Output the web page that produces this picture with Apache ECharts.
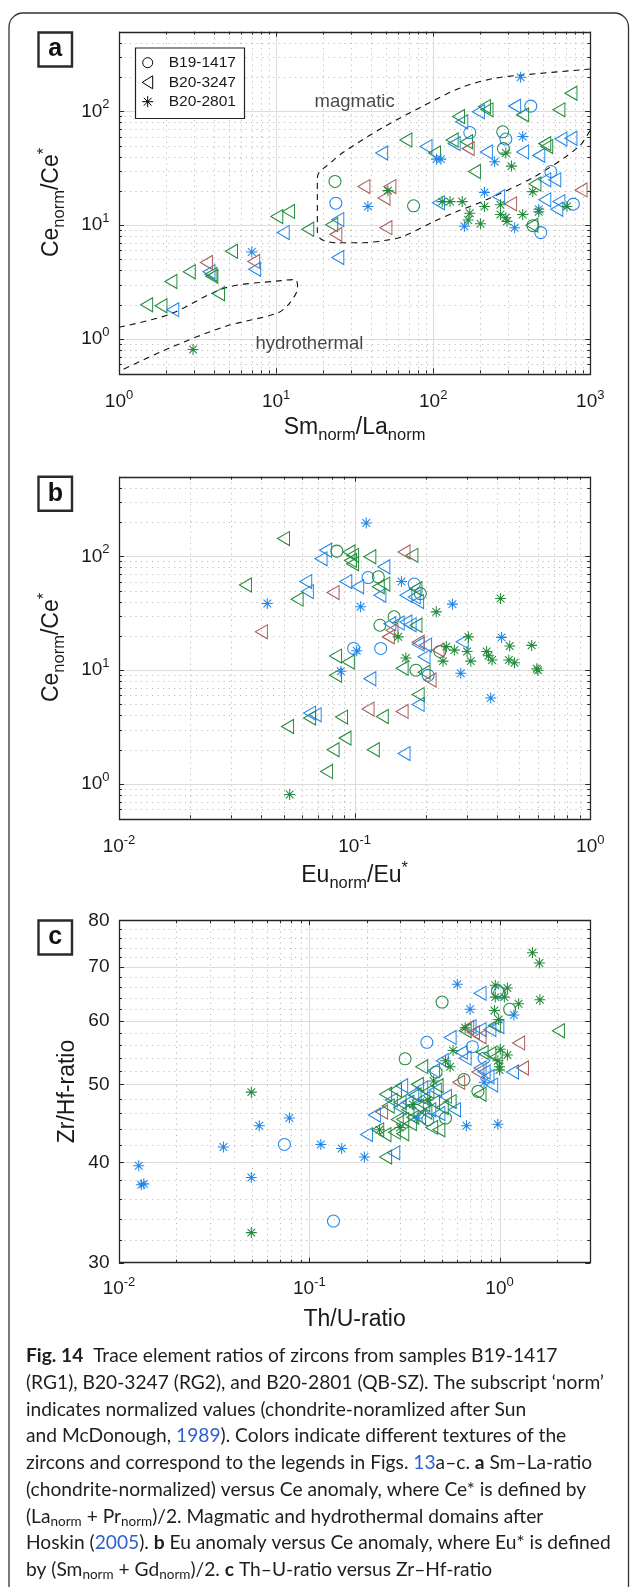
<!DOCTYPE html>
<html><head><meta charset="utf-8">
<script src="https://cdn.jsdelivr.net/npm/echarts/dist/echarts.min.js"></script>
<style>html,body{margin:0;padding:0;background:#fff}#c{width:630px;height:1587px}</style>
</head><body><div id="c"></div>
<script>
// ---------------- DATA ----------------
const samples = ['B19-1417', 'B20-3247', 'B20-2801'];
const aXRange = [1, 1000], aYRange = [0.5, 500];
const bXRange = [0.01, 1], bYRange = [0.5, 500];
const cXRange = [0.01, 3], cYRange = [30, 80];
const cYMajor = [30, 40, 50, 60, 70, 80];

// Panel a: Sm/La (x) vs Ce/Ce* (y)
const aCircBlue = [[418,111],[171,65],[290,57],[24,15.6],[561,29.6],[780,15.3],[484,8.6]];
const aCircGreen = [[277,66],[280,47],[23.7,24.2],[75,14.8],[431,9.9]];
const aTriBlue = [[330,111],[194,99],[152,81],[136,52],[90,49],[47,43],[218,44],[371,44],[470,41],[650,57],[753,58],[513,25],[594,25],[261,17.8],[513,16.7],[631,16.1],[108,15.7],[612,13.8],[24.7,11.2],[24.7,5.2],[11.1,8.6],[7.3,4.1],[3.74,3.9],[2.2,1.81]];
const aTriGreen = [[753,144],[631,103],[371,93],[212,110],[220,103],[145,90],[67,56],[132,56],[163,54],[102,43],[528,49],[513,52],[183,29.6],[444,23],[10.1,11.9],[12.0,13.2],[22.6,10.1],[15.9,9.2],[5.2,5.9],[3.85,3.7],[3.9,3.55],[2.8,3.9],[2.14,3.2],[4.3,2.5],[1.5,2.0],[1.85,1.96],[425,10]];
const aTriRed = [[167,47],[873,20.4],[311,15.4],[36.2,21.8],[53,21.8],[48.6,17.3],[24,8.3],[50,9.5],[7.2,4.8],[3.6,4.7]];
const aStarBlue = [[360,199],[371,60],[105,38],[112,38],[246,36],[212,19.4],[38.4,14.6],[470,13.8],[158,9.8],[330,9.5],[7.0,5.8]];
const aStarGreen = [[290,43],[315,33],[51.5,20.1],[430,19.7],[114,16.1],[128,16.1],[153,16.1],[171,12.7],[167,11.1],[200,10.3],[212,14.6],[268,15.1],[268,12.4],[290,11.6],[295,10.8],[371,12.4],[470,13.1],[710,14.6],[2.96,0.81]];

// Panel b: Eu/Eu* (x) vs Ce/Ce* (y)
const bCircBlue = [[0.114,65],[0.179,57],[0.099,15.5],[0.129,15.5],[0.205,9]];
const bCircGreen = [[0.084,111],[0.126,66],[0.19,47],[0.147,29.4],[0.128,24.8],[0.23,14.6],[0.182,10]];
const bTriBlue = [[0.0753,113],[0.072,95],[0.133,81],[0.062,60],[0.063,49],[0.0917,60],[0.103,54],[0.128,45.5],[0.165,45.5],[0.179,44],[0.185,40],[0.141,25.6],[0.153,26],[0.165,26.5],[0.172,25],[0.186,16.9],[0.2,16.6],[0.197,13.1],[0.286,17.8],[0.116,8.4],[0.186,5.0],[0.0644,4.2],[0.068,4.05],[0.162,1.85]];
const bTriGreen = [[0.0499,143],[0.0946,109],[0.098,102],[0.098,86],[0.096,92],[0.116,99],[0.175,102],[0.0344,56],[0.057,42],[0.126,54],[0.133,57],[0.182,52],[0.182,24.8],[0.083,13.3],[0.094,11.8],[0.083,9.0],[0.159,10.4],[0.197,9.6],[0.186,6.1],[0.0644,3.8],[0.088,3.87],[0.131,3.92],[0.0519,3.2],[0.091,2.53],[0.081,2.0],[0.12,2.0],[0.076,1.29]];
const bTriRed = [[0.162,109],[0.081,48],[0.0402,21.7],[0.139,19.6],[0.144,22.4],[0.186,17.6],[0.226,15],[0.209,8.2],[0.114,4.55],[0.159,4.34]];
const bStarBlue = [[0.112,196],[0.158,60],[0.0426,38.5],[0.106,36],[0.26,38],[0.42,19.4],[0.282,9.4],[0.102,14.8],[0.0874,9.8],[0.378,5.7]];
const bStarGreen = [[0.416,42.6],[0.222,32.5],[0.153,19.6],[0.304,19.6],[0.245,16.1],[0.265,15],[0.3,14.6],[0.363,14.6],[0.37,13.4],[0.383,12.3],[0.451,12.3],[0.477,11.6],[0.455,16.3],[0.564,16.5],[0.593,10.3],[0.6,10],[0.311,12],[0.237,12],[0.165,12.8],[0.053,0.81]];

// Panel c: Th/U (x) vs Zr/Hf (y)
const cCircBlue = [[1.0,65],[0.415,56.4],[0.72,55.7],[0.83,53.9],[0.42,45.2],[0.074,42.1],[0.134,33.8]];
const cCircGreen = [[0.976,65.4],[0.499,63.3],[1.13,62.0],[0.319,53.8],[0.464,51.8],[0.65,50.7],[0.77,49.0],[0.52,45.4]];
const cTriBlue = [[0.79,64.9],[0.7,59],[0.79,58.5],[0.89,58.5],[0.98,59],[1.17,51.8],[0.55,57.2],[0.63,54.8],[0.66,53.9],[0.79,52.4],[0.83,51.8],[0.87,51.1],[0.91,49.9],[0.5,53.5],[0.45,52],[0.306,49.8],[0.35,48.6],[0.4,48],[0.46,49.2],[0.52,48.3],[0.37,47],[0.43,46.5],[0.48,46],[0.3,46.8],[0.22,45.8],[0.2,43.3],[0.278,41.1],[0.33,47.5],[0.39,49.5],[0.27,47.8],[0.58,46.5]];
const cTriGreen = [[2.04,58.3],[0.94,59.2],[0.66,58.3],[0.81,54.8],[0.89,54.6],[0.96,54.1],[0.39,52.6],[0.79,48.6],[0.252,48.6],[0.284,49.2],[0.37,50],[0.3,47.5],[0.33,46.5],[0.36,48.5],[0.4,47.2],[0.42,49],[0.45,47.5],[0.5,46.8],[0.47,49.8],[0.38,45.5],[0.34,44.7],[0.29,45.2],[0.229,43.9],[0.25,43.3],[0.28,43.6],[0.31,43.4],[0.252,40.6],[0.55,47.6],[0.44,44.2],[0.26,47],[0.35,45.5],[0.41,46.2],[0.31,45.2],[0.48,43.9]];
const cTriRed = [[0.68,58.8],[0.73,58.0],[0.79,57.3],[1.26,56.3],[1.32,52.4],[0.77,51.8],[0.61,50.3],[0.24,46.2]];
const cStarBlue = [[0.6,66.6],[0.7,62],[1.19,61.0],[0.83,50.3],[0.98,44.6],[0.67,44.4],[0.37,45.4],[0.0786,45.4],[0.0546,44.4],[0.115,42.1],[0.148,41.6],[0.0354,41.8],[0.195,40.6],[0.0127,39.6],[0.0131,37.5],[0.0135,37.6],[0.0496,38.3]];
const cStarGreen = [[1.49,72.9],[1.62,70.8],[0.95,66.4],[1.1,65.9],[0.95,64.2],[1.06,64.2],[1.26,63.0],[1.63,63.7],[0.94,61.8],[0.99,60.2],[0.66,58.8],[1.01,55.3],[1.1,54.4],[0.98,53.5],[1.0,52.6],[1.0,52.1],[0.57,55.1],[0.55,52.6],[0.52,53.5],[0.234,43.9],[0.0496,48.9],[0.0496,32.7],[0.3,44.2],[0.35,47.2],[0.42,47.8],[0.45,50.5]];

// Domain boundaries (panel a) after Hoskin (2005)
const magmaticLine = [[1000,235],[367,208],[244,194.5],[152,162.5],[84.5,109.7],[46.9,71],[26.2,42.8],[23.3,37.4],[20.7,32.7],[18.9,29.5],[18.3,26],[18.3,8.85],[18.9,7.74],[20.7,7.23],[24.7,7.0],[35.2,7.0],[50.1,7.38],[63.4,7.9],[101.6,10.8],[144,13.3],[204.6,16.1],[443,26.7],[847,49],[1000,68.6]];
const hydroLine = [[1,1.27],[2.08,1.64],[4.74,2.81],[10.8,3.26],[13.3,3.33],[13.7,2.81],[12.2,2.07],[10.2,1.69],[4.74,1.29],[2.08,0.83],[1,0.52]];
const domainLabels = [{name:'magmatic', value:[31.6,121]}, {name:'hydrothermal', value:[16.3,0.91]}];

// ---------------- STYLE ----------------
const BLUE = '#2387ea', GREEN = '#238b3c', RED = '#a85e59';
const TXT = '#1a1a1a', AX = '#262626';
const FONT = '"Liberation Sans", Arial, Helvetica, sans-serif';
const TRI = 'path://M0,7L12,0L12,14Z';
const STAR = 'path://M6,0L6,12M0,6L12,6M1.8,1.8L10.2,10.2M10.2,1.8L1.8,10.2';
const SYM = {circ: ['circle', 12], tri: [TRI, [12, 14]], star: [STAR, 11]};

function logMajor(lo, hi) { const r = []; for (let d = Math.floor(Math.log10(lo)); d <= Math.ceil(Math.log10(hi)); d++) { const v = Math.pow(10, d); if (v >= lo * 0.9999 && v <= hi * 1.0001) r.push(v); } return r; }
function logMinor(lo, hi) { const r = []; for (let d = Math.floor(Math.log10(lo)); d <= Math.ceil(Math.log10(hi)); d++) for (let m = 2; m <= 9; m++) { const v = +(m * Math.pow(10, d)).toPrecision(6); if (v > lo * 1.0001 && v < hi * 0.9999) r.push(v); } return r; }
function stepMinor(lo, hi, step, majors) { const r = []; for (let v = lo + step; v < hi; v += step) if (majors.indexOf(v) < 0) r.push(v); return r; }

function axisItems(xr, yr, xMaj, xMin, yMaj, yMin) {
  const d = [];
  xMaj.forEach(v => d.push([v, yr[0], 0]));
  xMin.forEach(v => d.push([v, yr[0], 1]));
  yMaj.forEach(v => d.push([xr[0], v, 2]));
  yMin.forEach(v => d.push([xr[0], v, 3]));
  d.push([xr[0], yr[0], 4]);
  return d;
}
const tickRich = {
  b: {fontSize: 19, fontFamily: FONT, lineHeight: 26, fill: TXT, color: TXT},
  s: {fontSize: 13, fontFamily: FONT, lineHeight: 13, verticalAlign: 'top', fill: TXT, color: TXT}
};
function powLabel(v) { return '{b|10}{s|' + Math.round(Math.log10(v)) + '}'; }

function makeRender(yPlain, xLabelGap) {
  return function (params, api) {
    const cs = params.coordSys;
    const x0 = cs.x, y0 = cs.y, x1 = cs.x + cs.width, y1 = cs.y + cs.height;
    const kind = api.value(2);
    const ch = [];
    if (kind === 4) {
      ch.push({type: 'rect', shape: {x: Math.round(x0) + 0.5, y: Math.round(y0) + 0.5, width: Math.round(cs.width), height: Math.round(cs.height)}, style: {fill: 'none', stroke: AX, lineWidth: 1.3}, z2: 50});
      return {type: 'group', children: ch};
    }
    const p = api.coord([api.value(0), api.value(1)]);
    const major = (kind === 0 || kind === 2);
    const len = major ? 5 : 3;
    const gridStyle = major ? {stroke: '#dcdcdc', lineWidth: 1} : {stroke: '#bdbdbd', lineWidth: 1, lineDash: [1.2, 4.3]};
    if (kind <= 1) {
      const X = Math.round(p[0]) + 0.5;
      if (X > x0 + 1.5 && X < x1 - 1.5) ch.push({type: 'line', shape: {x1: X, y1: y0, x2: X, y2: y1}, style: gridStyle, z2: major ? 2 : 1});
      ch.push({type: 'line', shape: {x1: X, y1: y1, x2: X, y2: y1 - len}, style: {stroke: AX, lineWidth: 1}, z2: 10});
      ch.push({type: 'line', shape: {x1: X, y1: y0, x2: X, y2: y0 + len}, style: {stroke: AX, lineWidth: 1}, z2: 10});
      if (major) ch.push({type: 'text', x: p[0], y: y1 + xLabelGap, style: {text: powLabel(api.value(0)), rich: tickRich, align: 'center', verticalAlign: 'middle', fill: TXT, fontSize: 19, fontFamily: FONT}, z2: 20});
    } else {
      const Y = Math.round(p[1]) + 0.5;
      if (Y > y0 + 1.5 && Y < y1 - 1.5) ch.push({type: 'line', shape: {x1: x0, y1: Y, x2: x1, y2: Y}, style: gridStyle, z2: major ? 2 : 1});
      ch.push({type: 'line', shape: {x1: x0, y1: Y, x2: x0 + len, y2: Y}, style: {stroke: AX, lineWidth: 1}, z2: 10});
      ch.push({type: 'line', shape: {x1: x1, y1: Y, x2: x1 - len, y2: Y}, style: {stroke: AX, lineWidth: 1}, z2: 10});
      if (major) {
        const v = api.value(1);
        const txt = yPlain ? String(v) : powLabel(v);
        ch.push({type: 'text', x: x0 - 9.5, y: p[1], style: {text: txt, rich: tickRich, align: 'right', verticalAlign: 'middle', fill: TXT, fontSize: 19, fontFamily: FONT}, z2: 20});
      }
    }
    return {type: 'group', children: ch};
  };
}

function sc(data, idx, shape, color) {
  return {type: 'scatter', xAxisIndex: idx, yAxisIndex: idx, data: data, symbol: SYM[shape][0], symbolSize: SYM[shape][1],
    itemStyle: {color: 'none', borderColor: color, borderWidth: 1.05, opacity: 1}, z: 4, silent: true, emphasis: {disabled: true}};
}
function axisSeries(idx, data, yPlain, gap) {
  return {type: 'custom', xAxisIndex: idx, yAxisIndex: idx, data: data, renderItem: makeRender(yPlain, gap), z: 1, silent: true, clip: false};
}
function logAx(idx, r) {
  return {type: 'log', logBase: 10, gridIndex: idx, min: r[0], max: r[1], axisLine: {show: false}, axisTick: {show: false}, axisLabel: {show: false}, splitLine: {show: false}, minorTick: {show: false}, minorSplitLine: {show: false}};
}

const aAxis = axisItems(aXRange, aYRange, logMajor(...aXRange), logMinor(...aXRange), logMajor(...aYRange), logMinor(...aYRange));
const bAxis = axisItems(bXRange, bYRange, logMajor(...bXRange), logMinor(...bXRange), logMajor(...bYRange), logMinor(...bYRange));
const cAxis = axisItems(cXRange, cYRange, logMajor(...cXRange), logMinor(...cXRange), cYMajor, stepMinor(30, 80, 2, cYMajor));

// ---------------- GRAPHICS ----------------
const titleRich = {
  m: {fontSize: 23, fontFamily: FONT, lineHeight: 32, fill: TXT, color: TXT},
  sub: {fontSize: 16.5, fontFamily: FONT, lineHeight: 15, verticalAlign: 'bottom', fill: TXT, color: TXT},
  sup: {fontSize: 16.5, fontFamily: FONT, lineHeight: 15, verticalAlign: 'top', fill: TXT, color: TXT}
};
function title(text, x, y, rot) {
  return {type: 'text', x: x, y: y, rotation: rot ? Math.PI / 2 : 0, style: {text: text, rich: titleRich, align: 'center', verticalAlign: 'middle', fill: TXT, fontSize: 23, fontFamily: FONT}, z: 10};
}
function panelBox(letter, y) {
  return [
    {type: 'rect', shape: {x: 38.5, y: y + 0.5, width: 33.5, height: 34}, style: {fill: '#fff', stroke: '#2a2a2a', lineWidth: 2.4}, z: 10},
    {type: 'text', x: 55.3, y: y + 17.5, style: {text: letter, align: 'center', verticalAlign: 'middle', fill: '#111', fontSize: 25, fontWeight: 'bold', fontFamily: FONT}, z: 11}
  ];
}
const LX = 147.7, LT = 168.7, LY = [62.7, 82.3, 101.7];
const legendEls = [
  {type: 'rect', shape: {x: 135.5, y: 48, width: 109, height: 70.5}, style: {fill: '#fff', stroke: '#222', lineWidth: 1.2}, z: 10},
  {type: 'circle', shape: {cx: LX, cy: LY[0], r: 5}, style: {fill: 'none', stroke: '#000', lineWidth: 1}, z: 11},
  {type: 'polygon', shape: {points: [[LX - 5.5, LY[1]], [LX + 5, LY[1] - 6.5], [LX + 5, LY[1] + 6.5]]}, style: {fill: 'none', stroke: '#000', lineWidth: 1}, z: 11},
  {type: 'line', shape: {x1: LX, y1: LY[2] - 5.5, x2: LX, y2: LY[2] + 5.5}, style: {stroke: '#000', lineWidth: 1}, z: 11},
  {type: 'line', shape: {x1: LX - 5.5, y1: LY[2], x2: LX + 5.5, y2: LY[2]}, style: {stroke: '#000', lineWidth: 1}, z: 11},
  {type: 'line', shape: {x1: LX - 3.9, y1: LY[2] - 3.9, x2: LX + 3.9, y2: LY[2] + 3.9}, style: {stroke: '#000', lineWidth: 1}, z: 11},
  {type: 'line', shape: {x1: LX + 3.9, y1: LY[2] - 3.9, x2: LX - 3.9, y2: LY[2] + 3.9}, style: {stroke: '#000', lineWidth: 1}, z: 11}
].concat(samples.map((s, i) => ({type: 'text', x: LT, y: LY[i], style: {text: s, align: 'left', verticalAlign: 'middle', fill: TXT, fontSize: 15.5, fontFamily: FONT}, z: 11})));

const CAP_FONT = 'Lato, "Open Sans", sans-serif';
const CAP_SIZE = 19.2;
const capRich = {
  b: {fontWeight: 'bold', fontFamily: CAP_FONT, fontSize: CAP_SIZE, fill: '#1e1e1e', color: '#1e1e1e'},
  l: {fill: '#2f5fcf', color: '#2f5fcf', fontFamily: CAP_FONT, fontSize: CAP_SIZE},
  s: {fontSize: 13.5, fontFamily: CAP_FONT, lineHeight: 12, verticalAlign: 'bottom', fill: '#1e1e1e', color: '#1e1e1e'}
};
const captionLines = [
  '{b|Fig. 14}  Trace element ratios of zircons from samples B19-1417',
  '(RG1), B20-3247 (RG2), and B20-2801 (QB-SZ). The subscript \u2018norm\u2019',
  'indicates normalized values (chondrite-noramlized after Sun',
  'and McDonough, {l|1989}). Colors indicate different textures of the',
  'zircons and correspond to the legends in Figs. {l|13}a\u2013c. {b|a} Sm\u2013La-ratio',
  '(chondrite-normalized) versus Ce anomaly, where Ce* is defined by',
  '(La{s|norm} + Pr{s|norm})/2. Magmatic and hydrothermal domains after',
  'Hoskin ({l|2005}). {b|b} Eu anomaly versus Ce anomaly, where Eu* is defined',
  'by (Sm{s|norm} + Gd{s|norm})/2. {b|c} Th\u2013U-ratio versus Zr\u2013Hf-ratio'
];
const captionEls = captionLines.map((t, i) => ({type: 'text', x: 26, y: 1356 + i * 26.75,
  style: {text: t, rich: capRich, align: 'left', verticalAlign: 'middle', fill: '#1e1e1e', fontSize: CAP_SIZE, fontFamily: CAP_FONT, lineHeight: 24}, z: 10}));

const graphics = [
  {type: 'rect', shape: {x: 9, y: 13, width: 619.5, height: 1590, r: 14}, style: {fill: 'none', stroke: '#333', lineWidth: 1.3}, z: 0},
  title('{m|Sm}{sub|norm}{m|/La}{sub|norm}', 354.6, 428, false),
  title('{m|Ce}{sub|norm}{m|/Ce}{sup|*}', 52, 202.5, true),
  title('{m|Eu}{sub|norm}{m|/Eu}{sup|*}', 354.6, 876, false),
  title('{m|Ce}{sub|norm}{m|/Ce}{sup|*}', 52, 647.5, true),
  title('{m|Th/U-ratio}', 354.6, 1319.5, false),
  title('{m|Zr/Hf-ratio}', 68, 1091.5, true)
].concat(panelBox('a', 32), panelBox('b', 476.3), panelBox('c', 920), legendEls, captionEls);

// ---------------- CHART ----------------
const chart = echarts.init(document.getElementById('c'), null, {renderer: 'canvas', width: 630, height: 1587});
const dashed = {color: '#111', width: 1.1, type: [6, 5]};
chart.setOption({
  animation: false,
  backgroundColor: '#fff',
  grid: [
    {left: 119, top: 31.7, width: 471.3, height: 341.6, outerBoundsMode: 'none', containLabel: false},
    {left: 119, top: 476.7, width: 471.3, height: 341.6, outerBoundsMode: 'none', containLabel: false},
    {left: 119, top: 920.3, width: 471.3, height: 342.4, outerBoundsMode: 'none', containLabel: false}
  ],
  xAxis: [logAx(0, aXRange), logAx(1, bXRange), logAx(2, cXRange)],
  yAxis: [logAx(0, aYRange), logAx(1, bYRange), logAx(2, cYRange)],
  graphic: {elements: graphics},
  series: [
    axisSeries(0, aAxis, false, 28.4), axisSeries(1, bAxis, false, 28.4), axisSeries(2, cAxis, true, 26.5),
    {type: 'line', xAxisIndex: 0, yAxisIndex: 0, data: magmaticLine, symbol: 'none', smooth: 0.3, lineStyle: dashed, z: 3, silent: true},
    {type: 'line', xAxisIndex: 0, yAxisIndex: 0, data: hydroLine, symbol: 'none', smooth: 0.3, lineStyle: dashed, z: 3, silent: true},
    {type: 'scatter', xAxisIndex: 0, yAxisIndex: 0, data: domainLabels, symbolSize: 1, itemStyle: {color: 'rgba(0,0,0,0)'}, silent: true, z: 5,
      label: {show: true, position: 'inside', formatter: '{b}', color: TXT, fontSize: 18.5, fontFamily: FONT}},
    sc(aCircBlue, 0, 'circ', BLUE), sc(aCircGreen, 0, 'circ', GREEN),
    sc(aTriBlue, 0, 'tri', BLUE), sc(aTriGreen, 0, 'tri', GREEN), sc(aTriRed, 0, 'tri', RED),
    sc(aStarBlue, 0, 'star', BLUE), sc(aStarGreen, 0, 'star', GREEN),
    sc(bCircBlue, 1, 'circ', BLUE), sc(bCircGreen, 1, 'circ', GREEN),
    sc(bTriBlue, 1, 'tri', BLUE), sc(bTriGreen, 1, 'tri', GREEN), sc(bTriRed, 1, 'tri', RED),
    sc(bStarBlue, 1, 'star', BLUE), sc(bStarGreen, 1, 'star', GREEN),
    sc(cCircBlue, 2, 'circ', BLUE), sc(cCircGreen, 2, 'circ', GREEN),
    sc(cTriBlue, 2, 'tri', BLUE), sc(cTriGreen, 2, 'tri', GREEN), sc(cTriRed, 2, 'tri', RED),
    sc(cStarBlue, 2, 'star', BLUE), sc(cStarGreen, 2, 'star', GREEN)
  ]
});
</script></body></html>
